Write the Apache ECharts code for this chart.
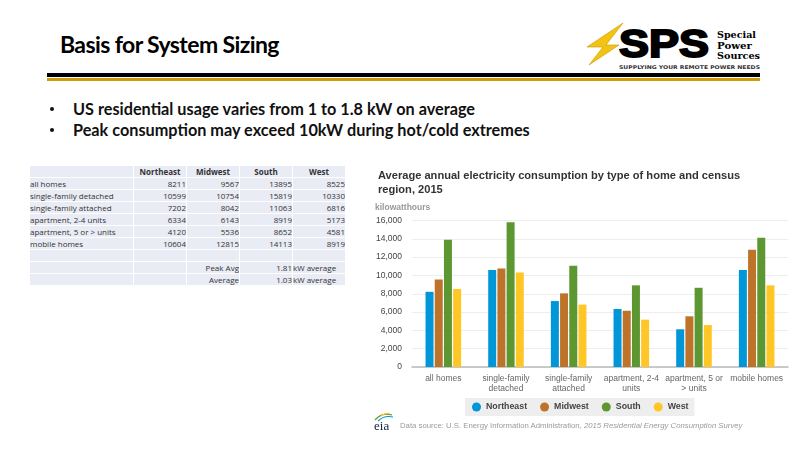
<!DOCTYPE html>
<html lang="en">

<head>
  <meta charset="UTF-8" />
  <title>Basis for System Sizing</title>
  <script src="https://cdn.jsdelivr.net/npm/echarts@6/dist/echarts.min.js"></script>
  <style>
    html, body { margin: 0; padding: 0; background: #fff; }
    #slide { position: relative; width: 800px; height: 450px; overflow: hidden; font-family: Lato, "Open Sans", sans-serif; }
    .abs { position: absolute; white-space: nowrap; }
    #heading { left: 60px; top: 30px; font-size: 23px; font-weight: 700; letter-spacing: -0.6px; color: #000; }
    .bar { position: absolute; left: 47px; width: 713px; }
    .bullet { left: 73px; font-size: 16.25px; font-weight: 700; color: #111; }
    .dot { position: absolute; left: -23px; top: 8px; width: 4px; height: 4px; border-radius: 50%; background: #111; }
    #sizing { position: absolute; left: 29px; top: 165px; border-collapse: separate; border-spacing: 1px; font-family: "Open Sans", sans-serif; font-size: 8px; color: #333; table-layout: fixed; width: 317px; }
    #sizing td { background: #e9ebf5; height: 11px; padding: 0; line-height: 11px; text-align: right; overflow: hidden; white-space: nowrap; }
    #sizing td:first-child { text-align: left; width: 103px; }
    #sizing tr:first-child td { font-weight: 700; text-align: center; background: #e9ebf5; }
    #chart { position: absolute; left: 360px; top: 160px; width: 440px; height: 280px; }
    #source { left: 400px; top: 421px; font-family: "Liberation Sans", Arial, sans-serif; font-size: 7.75px; color: #9a9a9a; }
  </style>
</head>

<body>
  <div id="slide">
    <div class="abs" id="heading">Basis for System Sizing</div>

    <svg class="abs" style="left:580px;top:15px" width="190" height="60" viewBox="0 0 190 60">
      <polygon points="43,8 26,30 39,30 9,50 23,32 7,32" fill="#f2c40f" stroke="#c9960c" stroke-width="0.6" />
      <text x="39" y="42" font-family="Liberation Sans" font-weight="700" font-size="39" stroke="#000" stroke-width="2" textLength="90" lengthAdjust="spacingAndGlyphs">SPS</text>
      <text x="137" y="23" font-family="DejaVu Serif" font-weight="700" font-size="9" textLength="39" lengthAdjust="spacingAndGlyphs">Special</text>
      <text x="137" y="33.5" font-family="DejaVu Serif" font-weight="700" font-size="9" textLength="35" lengthAdjust="spacingAndGlyphs">Power</text>
      <text x="137" y="44" font-family="DejaVu Serif" font-weight="700" font-size="9" textLength="43" lengthAdjust="spacingAndGlyphs">Sources</text>
      <text x="39" y="54" font-family="DejaVu Sans" font-weight="700" font-size="5" fill="#333" textLength="141" lengthAdjust="spacingAndGlyphs">SUPPLYING YOUR REMOTE POWER NEEDS</text>
    </svg>

    <div class="bar" style="top:73px;height:3.5px;background:#000"></div>
    <div class="bar" style="top:77.5px;height:3.5px;background:#d39b0a"></div>

    <div class="abs bullet" style="top:99px"><span class="dot"></span>US residential usage varies from 1 to 1.8 kW on average</div>
    <div class="abs bullet" style="top:120px"><span class="dot"></span>Peak consumption may exceed 10kW during hot/cold extremes</div>

    <table id="sizing"></table>

    <div id="chart"></div>

    <svg class="abs" style="left:372px;top:410px" width="26" height="22" viewBox="0 0 26 22">
      <path d="M3 10 Q10 2 20 5" fill="none" stroke="#5d9732" stroke-width="1.2" />
      <path d="M6 11 Q12 5 21 7" fill="none" stroke="#0096d7" stroke-width="1.2" />
      <path d="M9 6 Q13 3 17 3" fill="none" stroke="#ffc726" stroke-width="1.2" />
      <text x="2" y="20" font-family="Liberation Serif" font-size="13" fill="#123">eia</text>
    </svg>
    <div class="abs" id="source">Data source: U.S. Energy Information Administration, <i>2015 Residential Energy Consumption Survey</i></div>
  </div>

  <script type="text/javascript">
    var regions = ['Northeast', 'Midwest', 'South', 'West'];
    var regionColors = ['#0096d7', '#bd732a', '#5d9732', '#ffc726'];
    var homeTypes = ['all homes', 'single-family detached', 'single-family attached', 'apartment, 2-4 units', 'apartment, 5 or > units', 'mobile homes'];
    var axisLabels = ['all homes', 'single-family\ndetached', 'single-family\nattached', 'apartment, 2-4\nunits', 'apartment, 5 or\n> units', 'mobile homes'];
    var northeast = [8211, 10599, 7202, 6334, 4120, 10604];
    var midwest = [9567, 10754, 8042, 6143, 5536, 12815];
    var south = [13895, 15819, 11063, 8919, 8652, 14113];
    var west = [8525, 10330, 6816, 5173, 4581, 8919];
    var seriesValues = [northeast, midwest, south, west];

    // table on the left
    var html = '<tr><td></td>' + regions.map(function (r) { return '<td>' + r + '</td>'; }).join('') + '</tr>';
    homeTypes.forEach(function (name, i) {
      html += '<tr><td>' + name.replace('>', '&gt;') + '</td>';
      seriesValues.forEach(function (vals) { html += '<td>' + vals[i] + '</td>'; });
      html += '</tr>';
    });
    html += '<tr><td></td><td></td><td></td><td></td><td></td></tr>';
    html += '<tr><td></td><td></td><td>Peak Avg</td><td>1.81</td><td style="text-align:left">kW average</td></tr>';
    html += '<tr><td></td><td></td><td>Average</td><td>1.03</td><td style="text-align:left">kW average</td></tr>';
    document.getElementById('sizing').innerHTML = html;

    var myChart = echarts.init(document.getElementById('chart'));
    var option = {
      animation: false,
      textStyle: { fontFamily: '"Liberation Sans", Arial, sans-serif' },
      title: {
        text: 'Average annual electricity consumption by type of home and census\nregion, 2015',
        left: 13,
        top: 4,
        textStyle: { fontSize: 11.1, fontWeight: 'bold', color: '#333', lineHeight: 14 },
      },
      legend: {
        data: regions,
        left: 105,
        top: 238,
        icon: 'circle',
        itemWidth: 9,
        itemHeight: 9,
        itemGap: 13,
        padding: [4.5, 6, 4.5, 7],
        backgroundColor: '#eeeeee',
        textStyle: { fontSize: 8.8, fontWeight: 'bold', color: '#444' },
      },
      grid: { left: 52, right: 12, top: 60.5, bottom: 73 },
      xAxis: {
        type: 'category',
        data: axisLabels,
        axisTick: { show: false },
        axisLine: { lineStyle: { color: '#bbbbbb', width: 1.5 } },
        axisLabel: { fontSize: 8.5, color: '#666', lineHeight: 10, margin: 7, interval: 0 },
      },
      yAxis: {
        type: 'value',
        min: 0,
        max: 16000,
        interval: 2000,
        name: 'kilowatthours',
        nameLocation: 'end',
        nameGap: 8,
        nameTextStyle: { align: 'left', padding: [0, 0, 0, -37], fontSize: 8.5, fontWeight: 'bold', color: '#999' },
        axisLine: { show: false },
        axisTick: { show: false },
        axisLabel: {
          fontSize: 8.5,
          color: '#444',
          margin: 10,
          formatter: function (v) { return v.toLocaleString('en-US'); },
        },
        splitLine: { lineStyle: { color: '#eeeeee', width: 1 } },
      },
      series: regions.map(function (name, i) {
        return {
          name: name,
          type: 'bar',
          data: seriesValues[i],
          barWidth: 8,
          barGap: '15%',
          itemStyle: { color: regionColors[i] },
        };
      }),
    };
    myChart.setOption(option);
  </script>
</body>

</html>
